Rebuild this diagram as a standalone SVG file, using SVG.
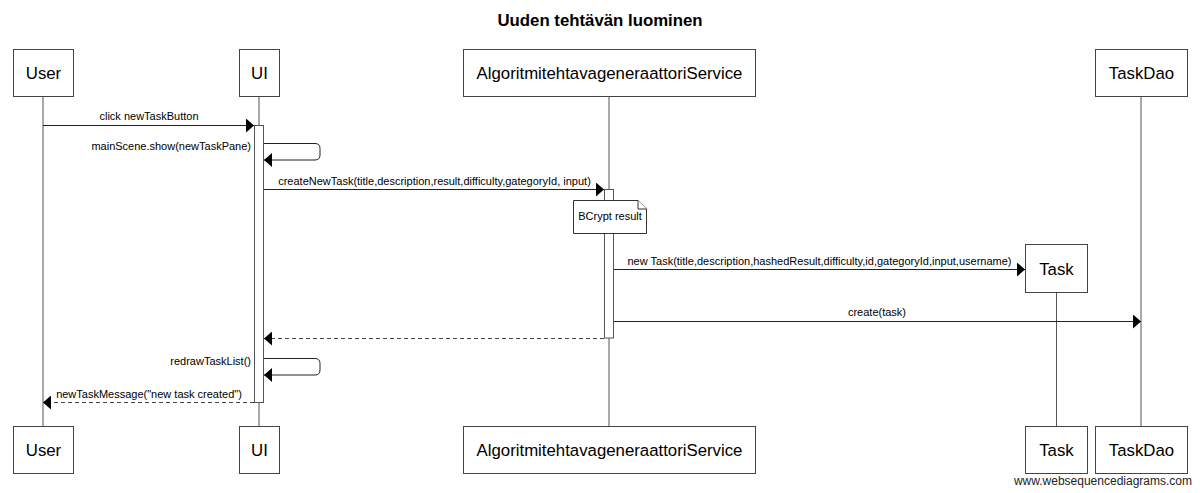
<svg xmlns="http://www.w3.org/2000/svg" width="1200" height="493" viewBox="0 0 1200 493">
<style>
text{font-family:"Liberation Sans",Arial,sans-serif;fill:#000}
.title{font-size:16.8px;font-weight:bold}
.actor{font-size:16.8px}
.msg{font-size:11px}
.box{fill:#fff;stroke:#444;stroke-width:1}
.life{stroke:#555;stroke-width:1;fill:none}
.act{fill:#fff;stroke:#555;stroke-width:1}
.line{stroke:#222;stroke-width:1;fill:none}
.dash{stroke:#444;stroke-width:1;fill:none;stroke-dasharray:4,3}
.note{fill:#fff;stroke:#333;stroke-width:1}
.wm{font-size:12px;fill:#222}
</style>
<defs>
<marker id="ah" markerWidth="9" markerHeight="14" refX="8" refY="7" orient="auto" markerUnits="userSpaceOnUse">
<path d="M0,0 L8,7 L0,14 Z" fill="#000"/>
</marker>
</defs>
<rect width="1200" height="493" fill="#fff"/>
<text class="title" x="600" y="26" text-anchor="middle">Uuden tehtävän luominen</text>

<g id="lifelines">
<line class="life" x1="43" y1="97" x2="43" y2="426"/>
<line class="life" x1="259" y1="97" x2="259" y2="426"/>
<line class="life" x1="609" y1="97" x2="609" y2="426"/>
<line class="life" x1="1056.5" y1="293" x2="1056.5" y2="426"/>
<line class="life" x1="1141" y1="97" x2="1141" y2="426"/>
</g>

<g id="activations">
<rect class="act" x="254.5" y="125.5" width="9" height="277"/>
<rect class="act" x="604.5" y="189.5" width="9" height="148.5"/>
</g>

<g id="User">
<rect class="box" x="13.5" y="49.5" width="60" height="47"/>
<text class="actor" x="43.5" y="79" text-anchor="middle">User</text>
<rect class="box" x="13.5" y="426.5" width="60" height="47"/>
<text class="actor" x="43.5" y="456" text-anchor="middle">User</text>
</g>
<g id="UI">
<rect class="box" x="239.5" y="49.5" width="40" height="47"/>
<text class="actor" x="259.5" y="79" text-anchor="middle">UI</text>
<rect class="box" x="239.5" y="426.5" width="40" height="47"/>
<text class="actor" x="259.5" y="456" text-anchor="middle">UI</text>
</g>
<g id="Service">
<rect class="box" x="463.5" y="49.5" width="292" height="47"/>
<text class="actor" x="609.5" y="79" text-anchor="middle">AlgoritmitehtavageneraattoriService</text>
<rect class="box" x="463.5" y="426.5" width="292" height="47"/>
<text class="actor" x="609.5" y="456" text-anchor="middle">AlgoritmitehtavageneraattoriService</text>
</g>
<g id="Task">
<rect class="box" x="1025.5" y="244.5" width="62" height="48"/>
<text class="actor" x="1056.5" y="275" text-anchor="middle">Task</text>
<rect class="box" x="1025.5" y="426.5" width="62" height="47"/>
<text class="actor" x="1056.5" y="456" text-anchor="middle">Task</text>
</g>
<g id="TaskDao">
<rect class="box" x="1095.5" y="49.5" width="92" height="47"/>
<text class="actor" x="1141.5" y="79" text-anchor="middle">TaskDao</text>
<rect class="box" x="1095.5" y="426.5" width="92" height="47"/>
<text class="actor" x="1141.5" y="456" text-anchor="middle">TaskDao</text>
</g>

<g id="note">
<path class="note" d="M573.5,200.5 H638 L646.5,209 V233.5 H573.5 Z"/>
<path class="note" d="M638,200.5 V209 H646.5" fill="none"/>
<text class="msg" x="610" y="220" text-anchor="middle">BCrypt result</text>
</g>

<g id="connectors">
<line class="line" x1="43" y1="125.5" x2="254" y2="125.5" marker-end="url(#ah)"/>
<text class="msg" x="149" y="120" text-anchor="middle">click newTaskButton</text>

<path class="line" d="M264,143.5 H315 Q320,143.5 320,148.5 V155 Q320,160 315,160 H264" marker-end="url(#ah)"/>
<text class="msg" x="251" y="150" text-anchor="end">mainScene.show(newTaskPane)</text>

<line class="line" x1="264" y1="189.5" x2="604" y2="189.5" marker-end="url(#ah)"/>
<text class="msg" x="434.5" y="185" text-anchor="middle">createNewTask(title,description,result,difficulty,gategoryId, input)</text>

<line class="line" x1="614" y1="269.5" x2="1025" y2="269.5" marker-end="url(#ah)"/>
<text class="msg" x="819.5" y="265" text-anchor="middle">new Task(title,description,hashedResult,difficulty,id,gategoryId,input,username)</text>

<line class="line" x1="614" y1="321.5" x2="1141" y2="321.5" marker-end="url(#ah)"/>
<text class="msg" x="877" y="316" text-anchor="middle">create(task)</text>

<line class="dash" x1="604" y1="338.5" x2="264" y2="338.5" marker-end="url(#ah)"/>

<path class="line" d="M264,358.5 H315 Q320,358.5 320,363.5 V370 Q320,375 315,375 H264" marker-end="url(#ah)"/>
<text class="msg" x="251" y="365" text-anchor="end">redrawTaskList()</text>

<line class="dash" x1="254" y1="402.5" x2="43" y2="402.5" marker-end="url(#ah)"/>
<text class="msg" x="149" y="398" text-anchor="middle">newTaskMessage("new task created")</text>
</g>

<text class="wm" x="1192" y="485" text-anchor="end">www.websequencediagrams.com</text>
</svg>
